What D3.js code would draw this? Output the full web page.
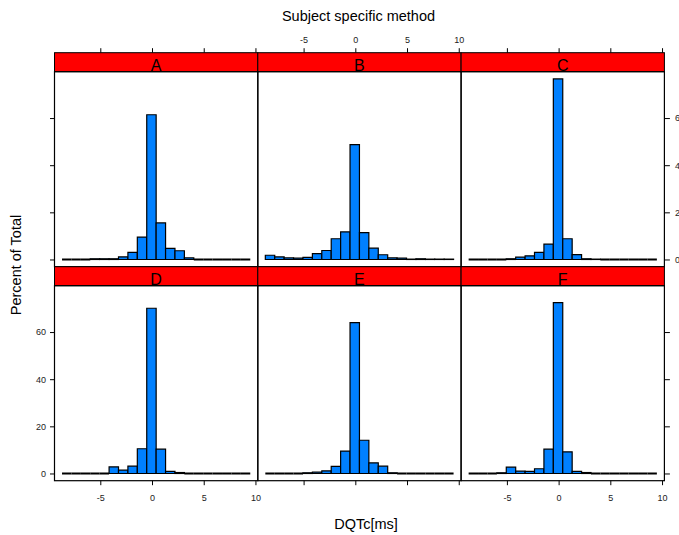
<!DOCTYPE html>
<html>
<head>
<meta charset="utf-8">
<script src="https://cdn.jsdelivr.net/npm/d3@7"></script>
<style>
  html, body { margin: 0; padding: 0; background: #fff; }
  svg { display: block; }
  .tick text { fill: #222; }
</style>
</head>
<body>
<div id="chart"></div>
<script>
// Histogram bin edges (ms), shared by all panels
const breaks = [-8.7, -7.79, -6.88, -5.97, -5.06, -4.15, -3.24, -2.33, -1.42, -0.51,
  0.40, 1.31, 2.22, 3.13, 4.04, 4.95, 5.86, 6.77, 7.68, 8.59, 9.50];

const panelNames = ['A', 'B', 'C', 'D', 'E', 'F'];

// percent of total per bin
const pctA = [0, 0, 0, 0.3, 0.3, 0.3, 1.1, 3.0, 9.5, 61.4, 15.5, 4.7, 3.7, 0.7, 0, 0, 0, 0, 0, 0];
const pctB = [1.8, 1.1, 0.7, 0.6, 0.85, 2.5, 3.8, 8.8, 11.7, 48.7, 11.4, 4.8, 2.0, 0.7, 0.6, 0.15, 0.3, 0.15, 0.15, 0.15];
const pctC = [0, 0, 0, 0, 0.3, 1.0, 1.55, 3.0, 6.5, 76.6, 8.8, 2.1, 0.3, 0.15, 0, 0, 0, 0, 0, 0];
const pctD = [0, 0, 0, 0, 0, 2.8, 1.4, 3.1, 10.5, 70.1, 10.3, 0.85, 0.4, 0, 0, 0, 0, 0, 0, 0];
const pctE = [0, 0, 0, 0, 0.3, 0.55, 1.1, 3.0, 9.5, 64.0, 14.1, 4.5, 3.1, 0.3, 0, 0, 0, 0, 0, 0];
const pctF = [0, 0, 0, 0.3, 2.7, 1.0, 0.85, 2.0, 10.3, 72.5, 9.2, 0.85, 0.4, 0, 0, 0, 0, 0, 0, 0];
const panelValues = [pctA, pctB, pctC, pctD, pctE, pctF];

const xTicks = [-5, 0, 5, 10];
const yTicks = [0, 20, 40, 60];

const W = 679, H = 535;
const FONT = 'Liberation Sans, Arial, Helvetica, sans-serif';
const L = {
  left: 54.5,
  colW: 203.3,
  top: 52.7,
  cellH: 214,
  stripH: 19,
  nCol: 3,
};
const plain = d => String(d); // hyphen minus like the original
const blank = () => '';

const svg = d3.select('#chart').append('svg')
  .attr('width', W).attr('height', H)
  .attr('font-family', FONT);

// lattice style: extend data range by 4% on each side
const xr = [breaks[0], breaks[breaks.length - 1]];
const xPad = (xr[1] - xr[0]) * 0.04;
const yMax = d3.max(panelValues.flat());
const yPad = yMax * 0.04;

const x = d3.scaleLinear().domain([xr[0] - xPad, xr[1] + xPad]).range([0, L.colW]);
const y = d3.scaleLinear().domain([-yPad, yMax + yPad]).range([L.cellH - L.stripH, 0]);
const panelH = L.cellH - L.stripH;

const styleAxis = ag => {
  ag.select('.domain').remove();
  ag.selectAll('text').attr('font-size', 9).attr('font-family', FONT);
};

panelNames.forEach((name, i) => {
  const col = i % L.nCol, row = Math.floor(i / L.nCol);
  const px = L.left + col * L.colW;
  const stripY = L.top + row * L.cellH;
  const py = stripY + L.stripH;
  const vals = panelValues[i];

  // strip
  svg.append('rect')
    .attr('x', px).attr('y', stripY)
    .attr('width', L.colW).attr('height', L.stripH)
    .attr('fill', '#ff0000').attr('stroke', '#000').attr('stroke-width', 1);
  svg.append('text')
    .attr('x', px + L.colW / 2).attr('y', stripY + L.stripH - 0.5)
    .attr('text-anchor', 'middle')
    .attr('font-size', 16).attr('fill', '#000')
    .text(name);

  const g = svg.append('g').attr('transform', `translate(${px},${py})`);

  // bars (path so that empty bins still draw as a line)
  g.selectAll('path.bar')
    .data(vals)
    .join('path')
    .attr('class', 'bar')
    .attr('d', (v, k) => {
      const x0 = x(breaks[k]), x1 = x(breaks[k + 1]);
      const y0 = y(0), y1 = y(v);
      return `M${x0},${y0}L${x0},${y1}L${x1},${y1}L${x1},${y0}Z`;
    })
    .attr('fill', '#0080ff').attr('stroke', '#000')
    .attr('stroke-width', v => v === 0 ? 2 : 1.2);

  // panel border
  g.append('rect')
    .attr('width', L.colW).attr('height', panelH)
    .attr('fill', 'none').attr('stroke', '#000').attr('stroke-width', 1.2);

  // x axes: top on first row (labels on middle col), bottom on last row (labels on outer cols)
  if (row === 0) {
    const ax = d3.axisTop(x).tickValues(xTicks).tickSize(4.5).tickSizeOuter(0).tickPadding(5)
      .tickFormat(col === 1 ? plain : blank);
    svg.append('g').attr('transform', `translate(${px},${stripY})`).call(ax).call(styleAxis);
  } else {
    const ax = d3.axisBottom(x).tickValues(xTicks).tickSize(4.5).tickSizeOuter(0).tickPadding(9)
      .tickFormat(col !== 1 ? plain : blank);
    g.append('g').attr('transform', `translate(0,${panelH})`).call(ax).call(styleAxis);
  }

  // y axes: left on first col (labels on bottom row), right on last col (labels on top row)
  if (col === 0) {
    const ay = d3.axisLeft(y).tickValues(yTicks).tickSize(4.5).tickSizeOuter(0).tickPadding(4)
      .tickFormat(row === 1 ? plain : blank);
    g.append('g').call(ay).call(styleAxis);
  }
  if (col === L.nCol - 1) {
    const ay = d3.axisRight(y).tickValues(yTicks).tickSize(5.5).tickSizeOuter(0).tickPadding(5)
      .tickFormat(row === 0 ? plain : blank);
    g.append('g').attr('transform', `translate(${L.colW},0)`).call(ay).call(styleAxis);
  }
});

svg.selectAll('.tick line').attr('stroke', '#000');

// titles
svg.append('text')
  .attr('x', 358.5).attr('y', 20.5)
  .attr('text-anchor', 'middle').attr('font-size', 14.5).attr('fill', '#000')
  .text('Subject specific method');

svg.append('text')
  .attr('transform', 'translate(20.5,265) rotate(-90)')
  .attr('text-anchor', 'middle').attr('font-size', 14.5).attr('fill', '#000')
  .text('Percent of Total');

svg.append('text')
  .attr('x', 366).attr('y', 529)
  .attr('text-anchor', 'middle').attr('font-size', 14.5).attr('fill', '#000')
  .text('DQTc[ms]');
</script>
</body>
</html>
